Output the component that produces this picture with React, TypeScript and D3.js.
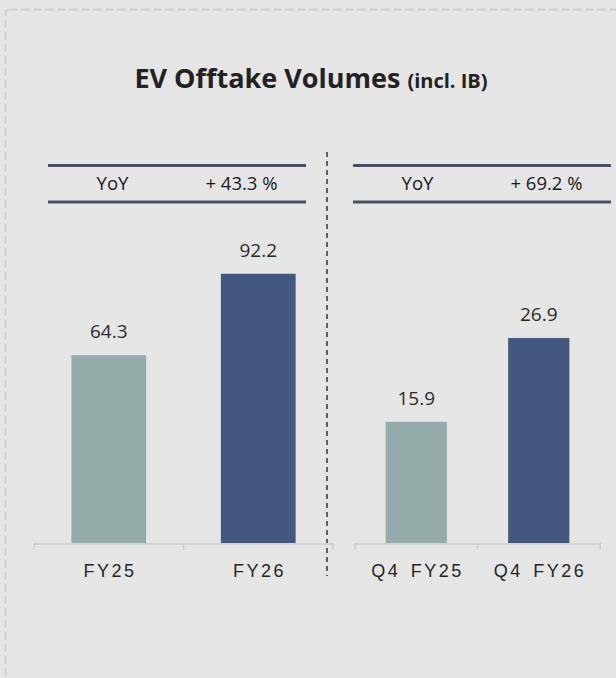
import React, { useEffect, useRef } from 'react';
import * as d3 from 'd3';

const W = 616;
const H = 678;

// data
const annualCats = ['FY25', 'FY26'];
const annualValues = [64.3, 92.2];
const quarterCats = ['Q4 FY25', 'Q4 FY26'];
const quarterValues = [15.9, 26.9];
const yoyLabels = ['+ 43.3 %', '+ 69.2 %'];
const barColors = ['#95abab', '#44577e'];

const baseY = 543;

type Panel = {
  cats: string[];
  values: number[];
  yoy: string;
  xRange: [number, number];
  header: [number, number];
  yMax: number;
  yTop: number;
};

export default function App() {
  const ref = useRef<SVGSVGElement>(null);

  useEffect(() => {
    const svg = d3.select(ref.current);
    svg.selectAll('*').remove();

    svg.append('rect').attr('width', W).attr('height', H).attr('fill', '#e6e6e6');
    svg.append('rect')
      .attr('x', 5.5).attr('y', 9.5)
      .attr('width', 700).attr('height', 760)
      .attr('rx', 4)
      .attr('fill', 'none')
      .attr('stroke', '#d0d0d0')
      .attr('stroke-width', 2)
      .attr('stroke-dasharray', '8,4');

    // title
    const title = svg.append('text')
      .attr('x', 311).attr('y', 88)
      .attr('text-anchor', 'middle')
      .attr('font-family', '"Open Sans", sans-serif')
      .attr('font-weight', 700)
      .attr('fill', '#222');
    title.append('tspan').attr('font-size', 27).text('EV Offtake Volumes ');
    title.append('tspan').attr('font-size', 20).text('(incl. IB)');

    // divider
    svg.append('line')
      .attr('x1', 327).attr('x2', 327)
      .attr('y1', 152).attr('y2', 576)
      .attr('stroke', '#333')
      .attr('stroke-width', 1.5)
      .attr('stroke-dasharray', '5,4');

    const panels: Panel[] = [
      { cats: annualCats, values: annualValues, yoy: yoyLabels[0], xRange: [34, 333], header: [48, 306], yMax: 100, yTop: 251 },
      { cats: quarterCats, values: quarterValues, yoy: yoyLabels[1], xRange: [355, 600], header: [353, 611], yMax: 30, yTop: 314.4 },
    ];

    panels.forEach((p) => {
      const g = svg.append('g');
      const x = d3.scaleBand<string>().domain(p.cats).range(p.xRange).paddingInner(0.5).paddingOuter(0.25);
      const y = d3.scaleLinear().domain([0, p.yMax]).range([baseY, p.yTop]);

      // header rows
      [165.5, 202].forEach((ly) => {
        g.append('line')
          .attr('x1', p.header[0]).attr('x2', p.header[1])
          .attr('y1', ly).attr('y2', ly)
          .attr('stroke', '#4a5068')
          .attr('stroke-width', 3);
      });
      const hw = p.header[1] - p.header[0];
      [['YoY', 0.25], [p.yoy, 0.75]].forEach(([t, f]) => {
        g.append('text')
          .attr('x', p.header[0] + hw * (f as number))
          .attr('y', 190)
          .attr('text-anchor', 'middle')
          .attr('font-family', '"Open Sans", sans-serif')
          .attr('font-size', 18.5)
          .attr('fill', '#1a1a1a')
          .text(t as string);
      });

      // bars
      g.selectAll('rect.bar')
        .data(p.values)
        .enter().append('rect')
        .attr('class', 'bar')
        .attr('x', (_d, i) => x(p.cats[i]) as number)
        .attr('width', x.bandwidth())
        .attr('y', (d) => y(d))
        .attr('height', (d) => baseY - y(d))
        .attr('fill', (_d, i) => barColors[i]);

      g.selectAll('text.val')
        .data(p.values)
        .enter().append('text')
        .attr('class', 'val')
        .attr('x', (_d, i) => (x(p.cats[i]) as number) + x.bandwidth() / 2)
        .attr('y', (d) => y(d) - 17)
        .attr('text-anchor', 'middle')
        .attr('font-family', '"Open Sans", sans-serif')
        .attr('font-size', 19)
        .attr('fill', '#2b2b2b')
        .text((d) => d.toFixed(1));

      // axis
      const step = x.step();
      const r0 = p.xRange[0];
      const ticks = [r0, r0 + step, p.xRange[1]];
      g.append('line')
        .attr('x1', p.xRange[0]).attr('x2', p.xRange[1])
        .attr('y1', baseY + 1).attr('y2', baseY + 1)
        .attr('stroke', '#d2d2d2').attr('stroke-width', 2);
      ticks.forEach((tx) => {
        g.append('line')
          .attr('x1', tx).attr('x2', tx)
          .attr('y1', baseY).attr('y2', baseY + 7)
          .attr('stroke', '#d2d2d2').attr('stroke-width', 2);
      });

      g.selectAll('text.cat')
        .data(p.cats)
        .enter().append('text')
        .attr('class', 'cat')
        .attr('x', (d) => (x(d) as number) + x.bandwidth() / 2 + 1.25)
        .attr('y', 577)
        .attr('text-anchor', 'middle')
        .attr('font-family', '"Liberation Sans", Arial, sans-serif')
        .attr('font-size', 18)
        .attr('letter-spacing', 2.5)
        .attr('word-spacing', 3)
        .attr('fill', '#262626')
        .text((d) => d);
    });
  }, []);

  return (
    <svg
      ref={ref}
      width={W}
      height={H}
      style={{ position: 'absolute', left: 0, top: 0, display: 'block' }}
    />
  );
}
